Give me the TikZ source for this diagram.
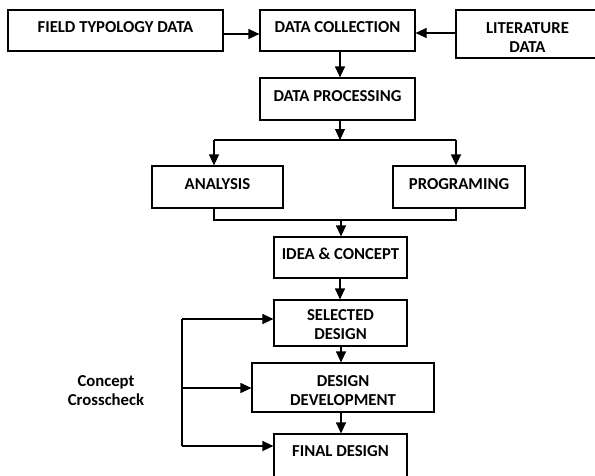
\documentclass[tikz,border=0pt]{standalone}
\usepackage{fontspec}
\setmainfont{Carlito}
\usetikzlibrary{arrows.meta}
\newcommand{\twoline}[2]{\begin{tabular}[b]{@{}c@{}}#1\\#2\end{tabular}}
\begin{document}
\begin{tikzpicture}[x=1pt,y=-1pt,
  every node/.style={font=\bfseries\fontsize{16.7}{19}\selectfont},
  box/.style={draw=black,line width=1.2pt,inner sep=0pt},
  onebox/.style={box,text height=12pt,text depth=8pt},
  lbl/.style={inner sep=0pt},
  arr/.style={line width=1.2pt,-{Triangle[length=11pt,width=10pt]}},
  ln/.style={line width=1.2pt}]
\useasboundingbox (0,0) rectangle (595,475);
\clip (0,0) rectangle (595,475);
% boxes
\node[onebox,minimum width=215pt,minimum height=41pt] (ftd) at (115.5,30.5) {FIELD TYPOLOGY DATA};
\node[onebox,minimum width=155pt,minimum height=41pt] (dc) at (337.5,30.5) {DATA COLLECTION};
\node[box,minimum width=143pt,minimum height=48pt,text height=40pt,text depth=2.2pt] (lit) at (527.5,34) {\twoline{LITERATURE}{DATA}};
\node[onebox,minimum width=155pt,minimum height=42pt] (dp) at (337.5,99) {DATA PROCESSING};
\node[onebox,minimum width=131pt,minimum height=42pt] (an) at (217.5,187) {ANALYSIS};
\node[onebox,minimum width=132pt,minimum height=42pt] (pr) at (459,187) {PROGRAMING};
\node[onebox,minimum width=133pt,minimum height=41pt] (ic) at (340.5,257.5) {IDEA \& CONCEPT};
\node[box,minimum width=133pt,minimum height=46pt,text height=36pt,text depth=2.2pt] (sd) at (340.5,323) {\twoline{SELECTED}{DESIGN}};
\node[box,minimum width=182pt,minimum height=49pt,text height=39pt,text depth=2.2pt] (dd) at (343,387.5) {\twoline{DESIGN}{DEVELOPMENT}};
\node[box,minimum width=133pt,minimum height=50pt,text height=12pt,text depth=17.2pt] (fd) at (340.5,459) {FINAL DESIGN};
\node[lbl,anchor=base] (cc) at (106,405.4) {\twoline{Concept}{Crosscheck}};
% junction coordinates
\coordinate (j1) at (340,140);
\coordinate (j1l) at (214,140);
\coordinate (j1r) at (456,140);
\coordinate (j2) at (341,220);
\coordinate (j2l) at (214,220);
\coordinate (j2r) at (456,220);
\coordinate (lt) at (182,319);
\coordinate (lm) at (182,388);
\coordinate (lb) at (182,446);
% connectors
\draw[arr] (ftd.east |- 0,34) -- (dc.west |- 0,34);
\draw[arr] (lit.west |- 0,33) -- (dc.east |- 0,33);
\draw[arr] (dc.south -| 340,0) -- (dp.north -| 340,0);
\draw[arr] (dp.south -| j1) -- (j1);
\draw[ln] (j1l) -- (j1r);
\draw[arr] (j1l) -- (an.north -| j1l);
\draw[arr] (j1r) -- (pr.north -| j1r);
\draw[ln] (an.south -| j2l) -- (j2l) -- (j2r) -- (pr.south -| j2r);
\draw[arr] (j2) -- (ic.north -| j2);
\draw[arr] (ic.south -| 340,0) -- (sd.north -| 340,0);
\draw[arr] (sd.south -| 341,0) -- (dd.north -| 341,0);
\draw[arr] (dd.south -| 341,0) -- (fd.north -| 341,0);
\draw[ln] (lt) -- (lb);
\draw[arr] (lt) -- (sd.west |- lt);
\draw[arr] (lm) -- (dd.west |- lm);
\draw[arr] (lb) -- (fd.west |- lb);
\end{tikzpicture}
\end{document}
